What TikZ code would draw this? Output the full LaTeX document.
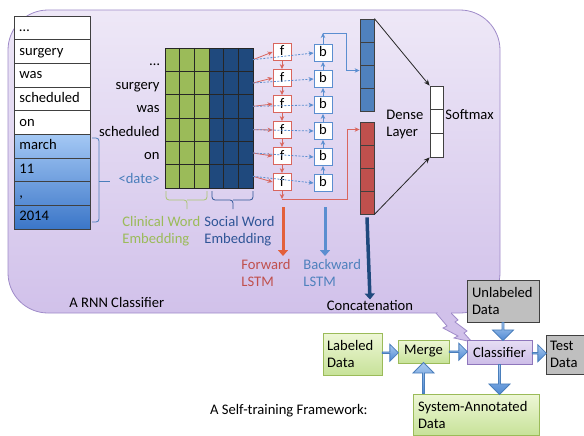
\documentclass[tikz,border=0pt]{standalone}
\usepackage{fontspec}
\setmainfont{Carlito}
\usetikzlibrary{arrows.meta,shapes.arrows,positioning,calc}

\definecolor{frametop}{HTML}{EEE8F7}
\definecolor{framebot}{HTML}{D1C1EA}
\definecolor{framedraw}{HTML}{9F8BC9}
\definecolor{cwgreen}{HTML}{9BBB59}
\definecolor{swblue}{HTML}{1F497D}
\definecolor{swtext}{HTML}{2F5597}
\definecolor{vecblue}{HTML}{4F81BD}
\definecolor{vecred}{HTML}{C0504D}
\definecolor{fred}{HTML}{D9665E}
\definecolor{bblue}{HTML}{5B8ED0}
\definecolor{fworange}{HTML}{E3603B}
\definecolor{datelbl}{HTML}{4A7EBB}
\definecolor{greentop}{HTML}{EEF7D6}
\definecolor{greenbot}{HTML}{C7E299}
\definecolor{greendraw}{HTML}{9BBB59}
\definecolor{graybox}{HTML}{BFBFBF}
\definecolor{clstop}{HTML}{E6DEF4}
\definecolor{clsbot}{HTML}{CDBDE8}
\definecolor{clsdraw}{HTML}{8E76BC}
\definecolor{arrtop}{HTML}{A9C9EF}
\definecolor{arrbot}{HTML}{4E89D3}
\definecolor{arrdraw}{HTML}{4A7EBB}
\definecolor{toklight}{HTML}{A4C8F4}
\definecolor{tokdark}{HTML}{3B76C8}

\begin{document}
\begin{tikzpicture}[x=1pt, y=-1pt, line width=0.8pt, font=\fontsize{14.6}{17}\selectfont,
  tokbox/.style={draw=black!75, minimum height=23.67pt, text width=66pt, inner xsep=5pt, inner ysep=0pt,
    text height=10pt, text depth=3pt, align=left, anchor=west},
  wordlbl/.style={anchor=east, text height=10pt, text depth=3pt, inner sep=0pt},
  cell/.style={draw=black!75, minimum width=14pt, minimum height=23pt, inner sep=0pt},
  fbox/.style={draw=fred, fill=white, minimum width=18pt, minimum height=17pt, inner sep=0pt, text height=8pt},
  bbox/.style={draw=bblue, fill=white, minimum width=18pt, minimum height=17pt, inner sep=0pt, text height=8pt},
  farrow/.style={fred, -{Stealth[length=5pt,width=4.5pt]}},
  barrow/.style={bblue, -{Stealth[length=5pt,width=4.5pt]}},
  bdash/.style={bblue, dash pattern=on 2pt off 1.5pt, -{Stealth[length=5pt,width=4.5pt]}},
  fatarrow/.style={line width=3pt, -{Triangle[length=6pt,width=10pt]}},
  greenbox/.style={draw=greendraw, top color=greentop, bottom color=greenbot, inner xsep=4pt, align=left},
  grybox/.style={draw=black!75, fill=graybox, inner xsep=4pt, align=left},
  blockarrow/.style={single arrow, draw=arrdraw, top color=arrtop, bottom color=arrbot,
    inner sep=0pt, single arrow head extend=4pt, minimum width=17pt}]
\useasboundingbox (0,0) rectangle (584,436);

% RNN frame with its callout
\draw[framedraw, top color=frametop, bottom color=framebot, rounded corners=40pt] (8,10) rectangle (500,313);
\draw[framedraw, fill=framebot] (436,313) -- (447,326) -- (443,328) -- (458,336) -- (454,338) -- (472,342)
  -- (464,333) -- (467,331) -- (455,322) -- (458,320) -- (451,313);
\fill[framebot] (437.5,311) rectangle (450.5,314.5);

% token list
\foreach \txt [count=\i] in {\dots,surgery,was,scheduled,on}
  \node[tokbox, fill=white] (t\i) at (14,{16+23.67*(\i-0.5)}) {\txt};
\shade[top color=toklight, bottom color=tokdark] (14,134.35) rectangle (90,229);
\foreach \txt [count=\i from 6] in {march,11,{,},2014}
  \node[tokbox] (t\i) at (14,{16+23.67*(\i-0.5)}) {\txt};
\draw[datelbl, rounded corners=3pt] (92,138) -| (99,222) -- (92,222);
\draw[datelbl] (99,181) -- (110,181);

% words and embedding matrix
\foreach \txt [count=\i] in {\dots,surgery,was,scheduled,on}
  \node[wordlbl] (w\i) at (160,{62+23.5*(\i-1)}) {\txt};
\node[wordlbl, datelbl] (w6) at (160,179.5) {<date>};
\fill[cwgreen] (165,48) rectangle (209,188);
\fill[swblue] (209,48) rectangle (253,188);
\foreach \c in {1,...,5} \draw[black!85] ({165+14.67*\c},48) -- ++(0,140);
\foreach \r in {1,...,5} \draw[black!85] (165,{48+23.33*\r}) -- ++(88,0);
\draw[black!85] (165,48) rectangle (253,188);
\foreach \r in {1,...,6} \coordinate (e\r) at (253,{48+23.33*(\r-0.5)});
\draw[cwgreen!85, rounded corners=3pt] (166,191) |- (187,200) -- (187,209) (187,200) -| (207,191);
\draw[swtext, rounded corners=3pt] (212,191) |- (233,200) -- (233,209) (233,200) -| (253,191);
\node[cwgreen, align=left, anchor=west, inner sep=1pt] (cwlbl) at (121,231) {Clinical Word\\Embedding};
\node[swtext, align=left, anchor=west, inner sep=1pt] (swlbl) at (203,231) {Social Word\\Embedding};

% bidirectional LSTM
\foreach \i in {1,...,6} {
  \node[fbox] (f\i) at (282,{52+26*(\i-1)}) {f};
  \node[bbox] (b\i) at (323,{53+26*(\i-1)}) {b};
}
\foreach \i [evaluate=\i as \j using int(\i+1)] in {1,...,5} {
  \draw[farrow] (f\i) -- (f\j);
  \draw[barrow] (b\j) -- (b\i);
}
\foreach \i in {1,...,6} {
  \draw[farrow] (e\i) -- (f\i.west);
  \draw[bdash] (e\i) -- (b\i.west);
}

% concatenated vectors and softmax
\foreach \i in {1,...,4} {
  \node[cell, fill=vecblue] (bv\i) at (367,{19+23*(\i-0.5)}) {};
  \node[cell, fill=vecred] (rv\i) at (367,{122+23*(\i-0.5)}) {};
}
\foreach \i in {1,2,3}
  \node[cell, fill=white, minimum width=13pt, minimum height=23.67pt] (sm\i) at (436.5,{86+23.67*(\i-0.5)}) {};
\coordinate (fout) at (282,199);
\coordinate (bout) at (323,33);
\draw[farrow] (f6) -- (fout);
\draw[farrow] (fout) -- (fout -| 347,0) |- ([yshift=4pt]rv1.west);
\draw[barrow] (b1) -- (bout);
\draw[barrow] (bout) -- (bout -| 346,0) |- ([yshift=6pt]bv3.west);
\draw[black!85, -{Stealth[length=6pt,width=5pt]}] (bv1.north east) -- (sm1.north west);
\draw[black!85, -{Stealth[length=6pt,width=5pt]}] (rv4.south east) -- (sm3.south west);
\node[align=left, anchor=west, inner sep=1pt] (dense) at (385,124.5) {Dense\\Layer};
\node[anchor=west, inner sep=1pt] (smlbl) at (444,115) {Softmax};

% labels below
\coordinate (fwtop) at (283,207);
\coordinate (fwbot) at (283,256);
\coordinate (bwtop) at (325,207);
\coordinate (bwbot) at (325,256);
\draw[fatarrow, fworange] (fwtop) -- (fwbot);
\draw[fatarrow, bblue] (bwtop) -- (bwbot);
\node[vecred, align=left, anchor=west, inner sep=1pt] (fwlbl) at (240,273) {Forward\\LSTM};
\node[vecblue, align=left, anchor=west, inner sep=1pt] (bwlbl) at (302,273) {Backward\\LSTM};
\node[inner sep=1pt] (concat) at (370,306) {Concatenation};
\draw[fatarrow, swblue, line width=3.5pt] ([yshift=-3pt]rv4.south) -- (concat.north);
\node[anchor=west, inner sep=1pt] (rnnlbl) at (68,302) {A RNN Classifier};

% self-training framework
\node[greenbox, minimum width=59pt, minimum height=42pt, text width=51pt] (labeled) at (352.5,354) {Labeled\\Data};
\node[greenbox, minimum width=51pt, minimum height=23pt, text width=43pt, align=center] (merge) at (423.5,351.5) {Merge};
\node[draw=clsdraw, top color=clstop, bottom color=clsbot, minimum width=65pt, minimum height=24pt] (classifier) at (499.5,352) {Classifier};
\node[grybox, minimum width=72pt, minimum height=42pt, text width=62pt] (unlabeled) at (503,301) {Unlabeled\\Data};
\node[grybox, minimum width=46pt, minimum height=39pt, text width=38pt] (test) at (569,354.5) {Test\\Data};
\node[greenbox, minimum width=126pt, minimum height=41pt, text width=116pt] (sysann) at (476,414.5) {System-Annotated\\Data};
\node[anchor=east, inner sep=1pt] (stlbl) at (369,411) {A Self-training Framework:};

\node[blockarrow, minimum height=16pt] (a1) at ($(labeled.east)!0.5!(merge.west)$) {};
\node[blockarrow, minimum height=18pt] (a2) at ($(merge.east)!0.5!(classifier.west)$) {};
\node[blockarrow, minimum height=14pt] (a3) at ($(classifier.east)!0.5!(test.west)$) {};
\node[blockarrow, minimum height=18pt, minimum width=21pt, rotate=-90] (a4) at ($(unlabeled.south)!0.5!(unlabeled.south |- classifier.north)$) {};
\node[blockarrow, minimum height=30pt, minimum width=21pt, rotate=-90] (a5) at ($(classifier.south)!0.5!(classifier.south |- sysann.north)$) {};
\node[blockarrow, minimum height=31pt, minimum width=21pt, rotate=90] (a6) at ($(merge.south |- sysann.north)!0.5!(merge.south)$) {};
\end{tikzpicture}
\end{document}
